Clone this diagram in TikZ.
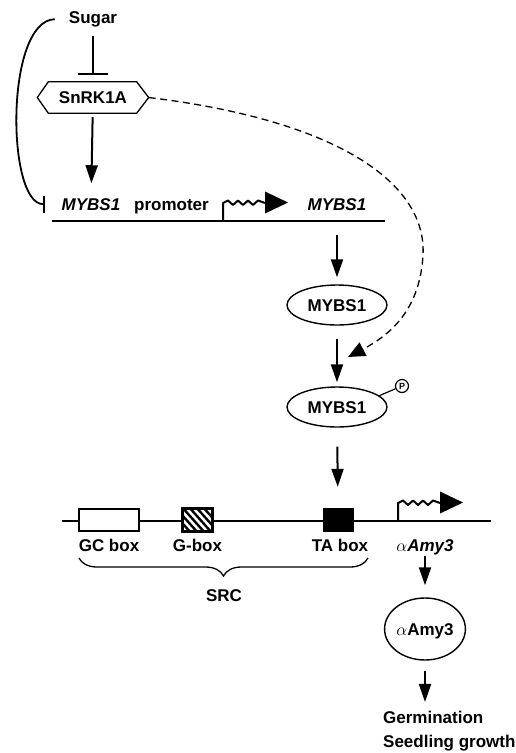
\documentclass[tikz,border=0pt]{standalone}
\usepackage{fontspec}
\setmainfont{Liberation Sans}
\usetikzlibrary{arrows.meta,decorations.pathreplacing,calc,shapes.geometric}
\begin{document}
\begin{tikzpicture}[x=1pt,y=-1pt,
  txt/.style={font=\fontsize{17}{20}\selectfont\bfseries, inner sep=0pt, anchor=base},
  shp/.style={font=\fontsize{17}{20}\selectfont\bfseries, inner sep=0pt, text height=12.2pt, text depth=0pt},
  prot/.style={shp, ellipse, draw, line width=1.4pt, minimum width=100pt, minimum height=40pt},
  act/.style={line width=2pt, -{Triangle[length=18pt,width=12pt]}},
  inh/.style={line width=1.8pt, -{Bar[width=#1]}},
  dna/.style={line width=2.4pt},
  dsh/.style={line width=1.3pt, dash pattern=on 7pt off 4.5pt, -{Triangle[length=17pt,width=15pt]}},
  tss/.pic={
    \draw[line width=2pt, line join=round] (0,0) -- (0,-18) -- (5,-20.5) -- (10,-16) -- (15,-20.5) -- (20,-16) -- (25,-20.5) -- (30,-16) -- (35,-20.5) -- (42,-18);
    \fill (42,-29.5) -- (65,-18.5) -- (42,-7.5) -- cycle;
  }]
\useasboundingbox (0,0) rectangle (516,753);

% ---- top part ----
\node[txt] (sugar) at (93,23.3) {Sugar};
\node[shp, minimum width=111pt, minimum height=31pt] (snrk) at (93,97.5) {SnRK1A};
\draw[line width=1.3pt] (snrk.west) -- ([xshift=11pt]snrk.north west) -- ([xshift=-12pt]snrk.north east)
  -- (snrk.east) -- ([xshift=-12pt]snrk.south east) -- ([xshift=11pt]snrk.south west) -- cycle;

\node[txt, font=\fontsize{17}{20}\selectfont\bfseries\itshape] (mybsL) at (91,210) {MYBS1};
\node[txt] (prom) at (171.5,210) {promoter};
\node[txt, font=\fontsize{17}{20}\selectfont\bfseries\itshape] (mybsR) at (337,210) {MYBS1};

\coordinate (g1L) at (52,221);
\coordinate (g1R) at (385,221);
\draw[dna] (g1L) -- (g1R);
\pic at (223,221) {tss};

\draw[inh=30pt, shorten <=9pt, shorten >=7pt] (sugar) -- (snrk);
\draw[act, shorten <=4pt, shorten >=14.7pt] (snrk) -- (mybsL);
\draw[inh=17pt] ([xshift=-14pt]sugar.west) .. controls +(-50,2) and +(-38,0) .. ([xshift=-17pt]mybsL.west);

\node[prot] (m1) at (337,305) {MYBS1};
\node[prot] (m2) at (337,407) {MYBS1};
\node[circle, draw, line width=1.2pt, minimum size=13pt, inner sep=0pt, font=\fontsize{9}{9}\selectfont\bfseries] (pp) at (402,386) {P};
\draw[line width=1.2pt] (m2.15) -- (pp);

\draw[act, shorten <=25pt, shorten >=7pt] (mybsR) -- (m1);
\draw[act, shorten <=13pt, shorten >=4pt] (m1) -- (m2);

\coordinate (dashEnd) at (348,357);
\draw[dsh] (snrk.east) .. controls (335,120) and (427,182) .. (423,255) .. controls (420,310) and (390,335) .. (dashEnd);

% ---- promoter of alpha Amy3 ----
\coordinate (g2L) at (62,521);
\coordinate (g2R) at (491,521);
\draw[dna] (g2L) -- (g2R);
\pic at (398,521) {tss};

\node[draw, fill=white, line width=2pt, minimum width=60pt, minimum height=22pt, inner sep=0pt] (gcbox) at (109,520) {};
\node[draw, fill=white, line width=2pt, minimum width=29pt, minimum height=22pt, inner sep=0pt] (gbox) at (197.5,520) {};
\begin{scope}
  \clip (gbox.south west) rectangle (gbox.north east);
  \foreach \s in {160,167,...,216} \draw[line width=2.4pt] (\s,506) -- (\s+25,534);
\end{scope}
\draw[line width=2pt] (gbox.south west) rectangle (gbox.north east);
\node[draw, fill=black, minimum width=30pt, minimum height=23pt, inner sep=0pt] (tabox) at (338,519.5) {};

\draw[act, shorten <=19pt, shorten >=21pt] (m2) -- (tabox);

\node[txt] (gcl) at (109,551) {GC box};
\node[txt] (gl) at (197.5,551) {G-box};
\node[txt] (tal) at (340,551) {TA box};
\node[txt] (amyL) at (425,551) {$\alpha$\textit{Amy3}};

\coordinate (brL) at (79,558);
\coordinate (brR) at (368,558);
\draw[line width=1.3pt, decorate, decoration={brace, mirror, amplitude=18pt}] (brL) -- (brR);
\node[txt] (src) at (224,601) {SRC};

\node[shp, ellipse, draw, line width=1.4pt, minimum width=74pt, minimum height=62pt] (amyC) at (425,629) {$\alpha$Amy3};
\draw[act, shorten <=1pt, shorten >=12pt] (amyL) -- (amyC);

\node[txt, anchor=base west] (germ) at (383,723) {Germination};
\node[txt, anchor=base west] (seed) at (383,747) {Seedling growth};
\draw[act, shorten <=10pt, shorten >=8.5pt] (amyC) -- (amyC |- germ.north);
\end{tikzpicture}
\end{document}
